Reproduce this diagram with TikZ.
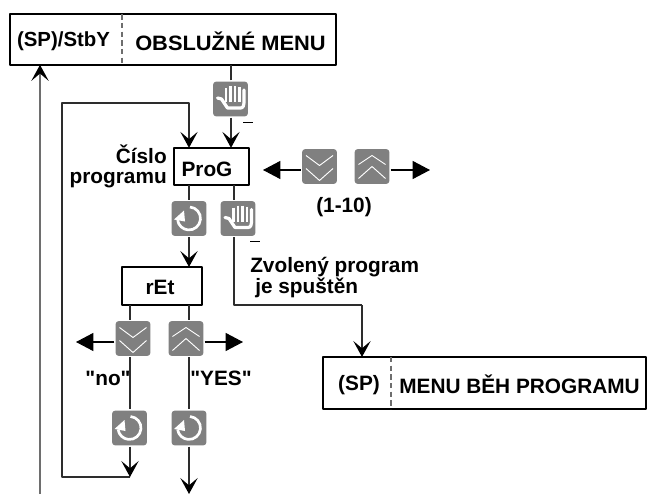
\documentclass[tikz,border=0pt]{standalone}
\usepackage{fontspec}
\setmainfont[Ligatures=TeXOff]{Liberation Sans}
\usetikzlibrary{arrows.meta, calc}
\definecolor{keygray}{RGB}{128, 128, 128}
\definecolor{wiregray}{RGB}{45, 45, 45}
\definecolor{cutgray}{RGB}{110, 110, 110}

\begin{document}
\begin{tikzpicture}[x=0.75pt, y=-0.75pt, line join=round,
		>={Stealth[length=12pt,width=13pt,inset=5.5pt,black]},
		wire/.style={wiregray,line width=1pt},
		fat/.style={black,line width=0.8pt,-{Triangle[length=13pt,width=13.5pt]}},
		cut/.style={cutgray,line width=0.8pt,dash pattern=on 4pt off 2.5pt},
		box/.style={draw=black,line width=1.1pt,fill=white,outer sep=0pt},
		lbl/.style={font=\bfseries\fontsize{15.6}{14.5}\selectfont,inner sep=0pt},
		key/.style={fill=keygray,rounded corners=2.5pt,minimum size=26.2pt,inner sep=0pt,outer sep=0.8pt},
		hand/.pic={
			\draw [white,line width=2.4pt,line cap=round,line join=round] (-13,-1)--(-9,0)--(-3,9)--(10,9) .. controls (13,9) and (13.5,6) .. (13.5,2)--(13.5,-9);
			\draw [white,line width=2.1pt] (-4.5,-11)--(-4.5,3);
			\draw [white,line width=2.1pt] (0,-13)--(0,3);
			\draw [white,line width=2.1pt] (4.5,-13)--(4.5,3);
			\draw [white,line width=2.1pt] (9,-12)--(9,3);
		},
		turn/.pic={
			\draw [white,line width=2pt] (1,-11.5) arc[start angle=-85,end angle=172,radius=11.5];
			\fill [white] (-15,1)--(-5,-8)--(-4,3)--cycle;
		},
		dwn/.pic={
			\draw [white,line width=0.7pt] (-13.5,-11)--(0,-1)--(13.5,-11);
			\draw [white,line width=0.7pt] (-13.5,2)--(0,14)--(13.5,2);
		},
		upw/.pic={
			\draw [white,line width=0.7pt] (-13.5,-2)--(0,-11)--(13.5,-2);
			\draw [white,line width=0.7pt] (-13.5,12)--(0,0)--(13.5,12);
		}]
		\useasboundingbox (0,0) rectangle (650,496);

		% boxes
		\node [box,minimum width=244.5pt,minimum height=38pt] (menu) at (173,39.5) {};
		\node [box,minimum width=56pt,minimum height=28pt] (prog) at (211.5,166.5) {};
		\node [box,minimum width=60pt,minimum height=28.5pt] (ret) at (162,286) {};
		\node [box,minimum width=242pt,minimum height=39pt] (run) at (484.5,383) {};

		% texts of the boxes
		\node [lbl,font=\bfseries\fontsize{15.3}{14.5}\selectfont] (stby) at (63.5,41) {(SP)/StbY};
		\node [lbl,xscale=1.05] (obs) at (230.5,41) {OBSLUŽNÉ MENU};
		\node [lbl] (progt) at (207,169) {ProG};
		\node [lbl] (rett) at (160,287) {rEt};
		\node [lbl] (sp) at (359,385) {(SP)};
		\node [lbl] (beh) at (519.5,384.5) {MENU BĚH PROGRAMU};

		% texts
		\node [lbl,align=right,anchor=east] (cislo) at (167,166.5) {Číslo\\programu};
		\node [lbl] (range) at (344,207) {(1-10)};
		\node [lbl,align=left,anchor=west] (zvol) at (250,277.5) {Zvolený program\\\hspace*{3.75pt}je spuštěn};
		\node [lbl] (no) at (108,378) {"no"};
		\node [lbl] (yes) at (221,378) {"YES"};

		% keys
		\node [key] (handa) at (230.5,99) {};
		\node [key] (handb) at (238,218.5) {};
		\node [key] (rota) at (189,218.5) {};
		\node [key] (rotb) at (129.5,428) {};
		\node [key] (rotc) at (189,428) {};
		\node [key] (dwna) at (319.5,166.5) {};
		\node [key] (upa) at (372,166.5) {};
		\node [key] (dwnb) at (133,338.5) {};
		\node [key] (upb) at (186,338.5) {};
		\pic at (handa) {hand};
		\pic at (handb) {hand};
		\pic at (rota) {turn};
		\pic at (rotb) {turn};
		\pic at (rotc) {turn};
		\pic at (dwna) {dwn};
		\pic at (upa) {upw};
		\pic at (dwnb) {dwn};
		\pic at (upb) {upw};

		% free ends
		\coordinate (backa) at (40,494);
		\coordinate (endc) at (189,494);
		\coordinate (feeda) at (130,477);
		\coordinate (feedb) at (62,477);
		\coordinate (feedc) at (62,103);
		\coordinate (feedd) at (189,103);
		\coordinate (zvola) at (234,305);
		\coordinate (zvolb) at (362,305);
		\coordinate (tipa) at (263,170);
		\coordinate (tipb) at (430,170);
		\coordinate (tipc) at (76,342);
		\coordinate (tipd) at (243,342);

		% connectors
		\draw [->,cutgray,line width=1.5pt] (backa)--(backa |- menu.south);
		\draw [wire] (231,0 |- handa.north)--(231,0 |- menu.south);
		\draw [wire,->] (231,0 |- handa.south)--(231,0 |- prog.north);
		\draw [wire,->] (feeda)--(feedb)--(feedc)--(feedd)--(feedd |- prog.north);
		\draw [wire] (189,0 |- prog.south)--(rota.north);
		\draw [wire,->] (rota.south)--(rota.south |- ret.north);
		\draw [wire] (234,0 |- prog.south)--(234,0 |- handb.north);
		\draw [wire] (234,0 |- handb.south)--(zvola)--(zvolb);
		\draw [wire,->] (zvolb)--(zvolb |- run.north);
		\draw [wire] (130,0 |- ret.south)--(130,0 |- dwnb.north);
		\draw [wire] (130,0 |- dwnb.south)--(130,0 |- rotb.north);
		\draw [wire,->] (130,0 |- rotb.south)--(feeda);
		\draw [wire] (189,0 |- ret.south)--(189,0 |- upb.north);
		\draw [wire] (189,0 |- upb.south)--(rotc.north);
		\draw [wire,->] (rotc.south)--(endc);
		\draw [fat] (dwna.west |- tipa)--(tipa);
		\draw [fat] (upa.east |- tipb)--(tipb);
		\draw [fat] (dwnb.west |- tipc)--(tipc);
		\draw [fat] (upb.east |- tipd)--(tipd);

		% dashed parts of the boxes
		\draw [cut] (122,0 |- menu.north)--(122,0 |- menu.south);
		\draw [cut] (391,0 |- run.north)--(391,0 |- run.south);

		% small strokes beside the keys
		\draw [black,line width=0.5pt] (243,122)--(253,122);
		\draw [black,line width=0.5pt] (250,241)--(260,241);
\end{tikzpicture}
\end{document}
